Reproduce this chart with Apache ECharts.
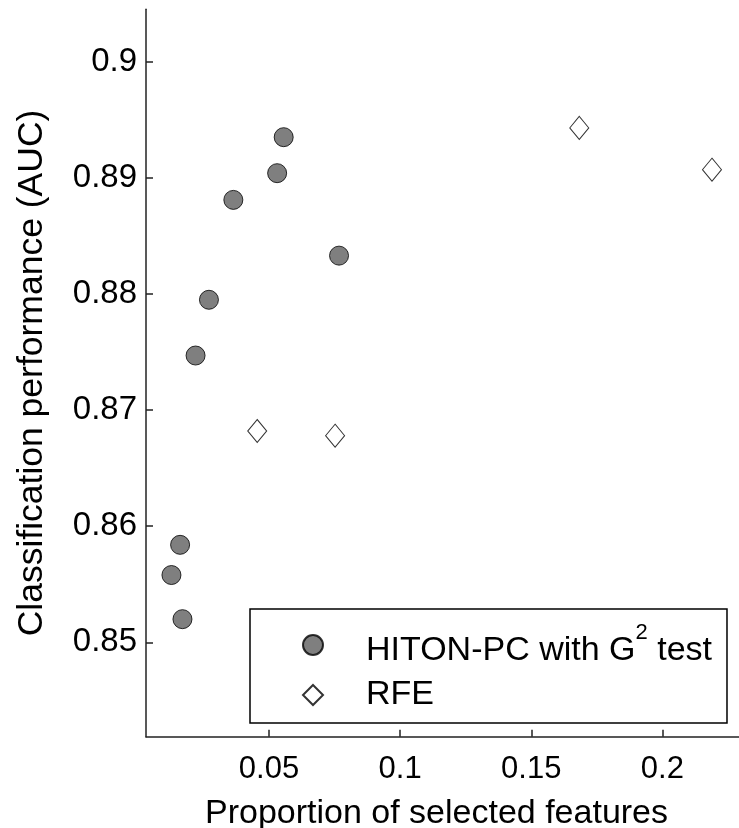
<!DOCTYPE html>
<html>
<head>
<meta charset="utf-8">
<script src="https://cdn.jsdelivr.net/npm/echarts@6/dist/echarts.min.js"></script>
<style>
  html, body { margin: 0; padding: 0; background: #fff; }
  #chart { width: 739px; height: 828px; }
</style>
</head>
<body>
<div id="chart"></div>
<script>
// Proportion of selected features vs. AUC for each feature-selection run
const hitonX = [0.0556, 0.0531, 0.0364, 0.0767, 0.0271, 0.0220, 0.0161, 0.0128, 0.0170];
const hitonY = [0.8935, 0.8904, 0.8881, 0.8833, 0.8795, 0.8747, 0.8584, 0.8558, 0.8520];
const rfeX = [0.0455, 0.0752, 0.1683, 0.2189];
const rfeY = [0.8682, 0.8678, 0.8943, 0.8907];

const xTicks = [0.05, 0.1, 0.15, 0.2];
const xTickLabels = ['0.05', '0.1', '0.15', '0.2'];
const yTicks = [0.85, 0.86, 0.87, 0.88, 0.89, 0.9];
const yTickLabels = ['0.85', '0.86', '0.87', '0.88', '0.89', '0.9'];

const seriesNames = ['HITON-PC with G2 test', 'RFE'];

const FONT = '"Liberation Sans", Arial, sans-serif';

function pairs(xs, ys) {
  return xs.map((x, i) => [x, ys[i]]);
}

const chart = echarts.init(document.getElementById('chart'), null, { renderer: 'canvas' });

chart.setOption({
  animation: false,
  backgroundColor: '#ffffff',
  grid: { left: 146, right: 0, top: 9.3, bottom: 91.3, containLabel: false, outerBoundsMode: 'none' },
  xAxis: {
    type: 'value',
    min: 0.0031,
    max: 0.2292,
    name: 'Proportion of selected features',
    nameLocation: 'middle',
    nameGap: 60,
    nameTextStyle: { fontFamily: FONT, fontSize: 34, color: '#000', padding: [0, 12, 0, 0] },
    axisLine: { show: true, onZero: false, lineStyle: { color: '#222', width: 1.5 } },
    axisTick: { show: true, inside: true, length: 7, customValues: xTicks, lineStyle: { color: '#222', width: 1.5 } },
    axisLabel: {
      show: true, margin: 17, customValues: xTicks,
      fontFamily: FONT, fontSize: 31, color: '#000',
      formatter: v => xTickLabels[xTicks.findIndex(t => Math.abs(t - v) < 1e-9)]
    },
    splitLine: { show: false }
  },
  yAxis: {
    type: 'value',
    min: 0.84188,
    max: 0.90451,
    name: 'Classification performance (AUC)',
    nameLocation: 'middle',
    nameGap: 96,
    nameTextStyle: { fontFamily: FONT, fontSize: 35.5, color: '#000' },
    axisLine: { show: true, onZero: false, lineStyle: { color: '#222', width: 1.5 } },
    axisTick: { show: true, inside: true, length: 7, customValues: yTicks, lineStyle: { color: '#222', width: 1.5 } },
    axisLabel: {
      show: true, margin: 9, customValues: yTicks,
      fontFamily: FONT, fontSize: 33, color: '#000',
      formatter: v => yTickLabels[yTicks.findIndex(t => Math.abs(t - v) < 1e-9)]
    },
    splitLine: { show: false }
  },
  legend: {
    orient: 'vertical',
    left: 250,
    top: 609,
    padding: [13, 15, 11, 52],
    itemWidth: 20,
    itemHeight: 20,
    itemGap: 10,
    borderColor: '#000',
    borderWidth: 1.5,
    backgroundColor: '#fff',
    data: seriesNames,
    textStyle: {
      fontFamily: FONT, fontSize: 34, color: '#000', lineHeight: 34,
      padding: [0, 0, 0, 38],
      rich: {
        a: { fontFamily: FONT, fontSize: 34, color: '#000', lineHeight: 34, verticalAlign: 'bottom' },
        s: { fontFamily: FONT, fontSize: 22, color: '#000', lineHeight: 46, verticalAlign: 'top' }
      }
    },
    formatter: name => name === seriesNames[0] ? '{a|HITON-PC with G}{s|2}{a| test}' : '{a|RFE}'
  },
  series: [
    {
      name: seriesNames[0],
      type: 'scatter',
      symbol: 'circle',
      symbolSize: 19,
      itemStyle: { color: '#5f5f5f', borderColor: '#000', borderWidth: 1 },
      data: pairs(hitonX, hitonY)
    },
    {
      name: seriesNames[1],
      type: 'scatter',
      symbol: 'diamond',
      symbolSize: [19, 23],
      itemStyle: { color: '#fff', borderColor: '#000', borderWidth: 1 },
      data: pairs(rfeX, rfeY)
    }
  ]
});
</script>
</body>
</html>
